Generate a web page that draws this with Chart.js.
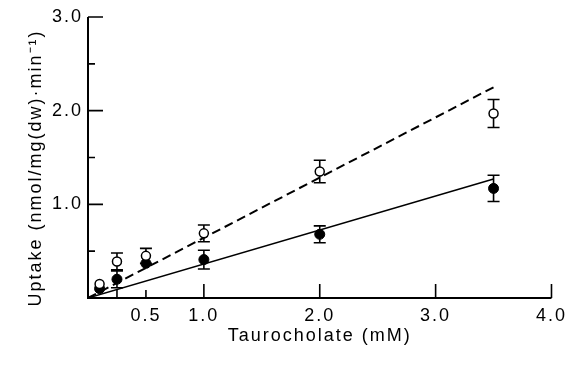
<!DOCTYPE html>
<html>
<head>
<meta charset="utf-8">
<script src="https://cdn.jsdelivr.net/npm/chart.js@4/dist/chart.umd.min.js"></script>
<style>
  html, body { margin: 0; padding: 0; background: #fff; }
  #wrap { width: 574px; height: 367px; }
</style>
</head>
<body>
<div id="wrap"><canvas id="c" width="574" height="367"></canvas></div>
<script>
// ---- data ----
const concentrations = [0.1, 0.25, 0.5, 1.0, 2.0, 3.5];
const openUptake   = [0.15, 0.39, 0.45, 0.69, 1.35, 1.97];
const openErr      = [0, 0.09, 0.08, 0.09, 0.12, 0.15];
const filledUptake = [0.10, 0.20, 0.37, 0.41, 0.68, 1.17];
const filledErr    = [0, 0.09, 0, 0.10, 0.09, 0.14];
const fitX         = [0, 3.5];
const dashedFitY   = [0, 2.25];
const solidFitY    = [0, 1.27];
const xTickValues  = [0.25, 0.5, 1, 2, 3, 4];
const xTickLabels  = ['', '0.5', '1.0', '2.0', '3.0', '4.0'];
const yTickValues  = [0.5, 1, 1.5, 2, 2.5, 3];
const yTickLabels  = ['', '1.0', '', '2.0', '', '3.0'];
const xTitle = 'Taurocholate (mM)';
const yTitle = 'Uptake (nmol/mg(dw)\u00B7min\u207B\u00B9)';

const FONT = '"Liberation Sans", Arial, sans-serif';
const FSIZE = 18;
const SPACING = '2px';

const pts = (xs, ys) => xs.map((x, i) => ({ x: x, y: ys[i] }));

const spacingPlugin = {
  id: 'spacing',
  beforeLayout(chart) { chart.ctx.letterSpacing = SPACING; },
  beforeDraw(chart) { chart.ctx.letterSpacing = SPACING; }
};

const errorBarPlugin = {
  id: 'errorBars',
  beforeDatasetsDraw(chart) {
    const ctx = chart.ctx, xs = chart.scales.x, ys = chart.scales.y;
    ctx.save();
    ctx.strokeStyle = '#000';
    ctx.lineWidth = 1.6;
    const draw = (vals, errs) => {
      concentrations.forEach((c, i) => {
        if (!errs[i]) return;
        const px = xs.getPixelForValue(c);
        const top = ys.getPixelForValue(vals[i] + errs[i]);
        const bot = ys.getPixelForValue(vals[i] - errs[i]);
        ctx.beginPath();
        ctx.moveTo(px, top); ctx.lineTo(px, bot);
        ctx.moveTo(px - 6, top); ctx.lineTo(px + 6, top);
        ctx.moveTo(px - 6, bot); ctx.lineTo(px + 6, bot);
        ctx.stroke();
      });
    };
    draw(openUptake, openErr);
    draw(filledUptake, filledErr);
    ctx.restore();
  }
};

const axesPlugin = {
  id: 'axesInward',
  beforeDatasetsDraw(chart) {
    const ctx = chart.ctx, xs = chart.scales.x, ys = chart.scales.y;
    const a = chart.chartArea;
    ctx.save();
    ctx.strokeStyle = '#000';
    ctx.lineWidth = 2;
    ctx.beginPath();
    ctx.moveTo(a.left, a.top); ctx.lineTo(a.left, a.bottom); ctx.lineTo(a.right, a.bottom);
    ctx.stroke();
    ctx.lineWidth = 1.6;
    ctx.beginPath();
    xTickValues.forEach((v) => {
      const px = xs.getPixelForValue(v);
      const len = Number.isInteger(v) ? 14 : 8;
      ctx.moveTo(px, a.bottom); ctx.lineTo(px, a.bottom - len);
    });
    yTickValues.forEach((v) => {
      const py = ys.getPixelForValue(v);
      const len = Number.isInteger(v) ? 15 : 7;
      ctx.moveTo(a.left, py); ctx.lineTo(a.left + len, py);
    });
    ctx.stroke();
    ctx.restore();
  }
};

const yTitlePlugin = {
  id: 'yTitle',
  afterDraw(chart) {
    const ctx = chart.ctx;
    ctx.save();
    ctx.letterSpacing = SPACING;
    ctx.fillStyle = '#000';
    ctx.font = FSIZE + 'px ' + FONT;
    ctx.translate(36, 168);
    ctx.rotate(-Math.PI / 2);
    ctx.textAlign = 'center';
    ctx.textBaseline = 'middle';
    ctx.fillText(yTitle, 0, 0);
    ctx.restore();
  }
};

new Chart(document.getElementById('c'), {
  type: 'scatter',
  data: {
    datasets: [
      { label: 'open', data: pts(concentrations, openUptake), pointRadius: 4.5,
        pointBackgroundColor: '#fff', pointBorderColor: '#000', pointBorderWidth: 1.5, showLine: false },
      { label: 'filled', data: pts(concentrations, filledUptake), pointRadius: 5,
        pointBackgroundColor: '#000', pointBorderColor: '#000', pointBorderWidth: 1, showLine: false },
      { label: 'dashed fit', data: pts(fitX, dashedFitY), showLine: true, pointRadius: 0,
        borderColor: '#000', borderWidth: 2, borderDash: [9, 5] },
      { label: 'solid fit', data: pts(fitX, solidFitY), showLine: true, pointRadius: 0,
        borderColor: '#000', borderWidth: 1.5 }
    ]
  },
  options: {
    responsive: false,
    animation: false,
    devicePixelRatio: 1,
    layout: { padding: { top: 17, right: 20, left: 0, bottom: 0 } },
    plugins: { legend: { display: false }, tooltip: { enabled: false } },
    scales: {
      x: {
        type: 'linear', min: 0, max: 4,
        grid: { display: false, drawTicks: false }, border: { display: false },
        afterBuildTicks: s => { s.ticks = xTickValues.map(v => ({ value: v })); },
        afterFit: s => { s.height = 69; },
        ticks: {
          autoSkip: false, maxRotation: 0, padding: 7, color: '#000',
          font: { family: FONT, size: FSIZE },
          callback: (v) => { const i = xTickValues.indexOf(v); return i >= 0 ? xTickLabels[i] : ''; }
        },
        title: { display: true, text: xTitle, color: '#000', font: { family: FONT, size: FSIZE },
                 padding: { top: 0, bottom: 20 } }
      },
      y: {
        type: 'linear', min: 0, max: 3,
        grid: { display: false, drawTicks: false }, border: { display: false },
        afterBuildTicks: s => { s.ticks = yTickValues.map(v => ({ value: v })); },
        afterFit: s => { s.width = 88; },
        ticks: {
          autoSkip: false, padding: 5, color: '#000',
          font: { family: FONT, size: FSIZE },
          callback: (v) => { const i = yTickValues.indexOf(v); return i >= 0 ? yTickLabels[i] : ''; }
        }
      }
    }
  },
  plugins: [spacingPlugin, axesPlugin, errorBarPlugin, yTitlePlugin]
});
</script>
</body>
</html>
